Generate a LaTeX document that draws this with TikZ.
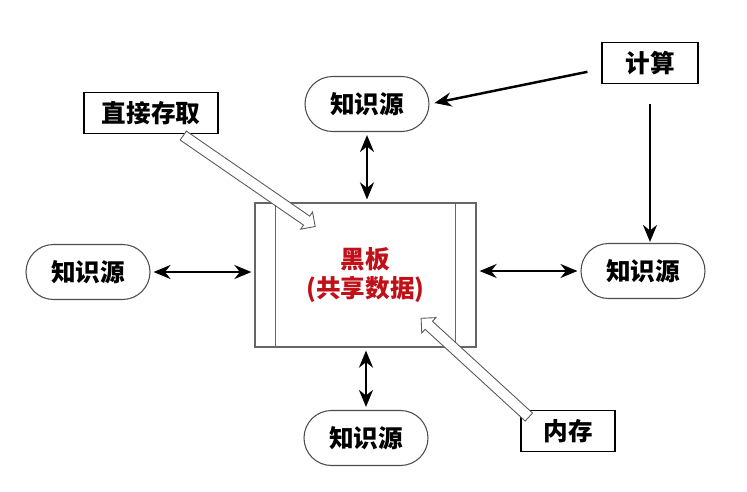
\documentclass[tikz,border=0pt]{standalone}
\usepackage{fontspec}
\setmainfont{Noto Sans CJK SC}
\usetikzlibrary{arrows.meta,calc,shapes.arrows}
\definecolor{boardred}{RGB}{192,16,24}

\begin{document}
\begin{tikzpicture}[
  >={Stealth[length=3.4mm,width=2.8mm]},
  every node/.style={font=\bfseries\fontsize{14}{17}\selectfont},
  src/.style={draw=black!70,line width=0.6pt,rounded corners=5.5mm,minimum width=24.8mm,minimum height=11mm,inner sep=0pt},
  tag/.style={draw,line width=0.9pt,minimum height=8.2mm,inner sep=0pt},
  board/.style={draw=black!60,line width=0.7pt,minimum width=44.2mm,minimum height=28.8mm,align=center,text=boardred},
  link/.style={<->,line width=1.4pt,shorten <=0.6mm,shorten >=0.6mm},
  feed/.style={->,line width=1.4pt},
  blk/.style={single arrow,draw=black!65,fill=white,line width=0.5pt,inner sep=1mm,
    single arrow head extend=1mm,single arrow tip angle=90}
]
\useasboundingbox (0,0) rectangle (14.94,-9.84);

% blackboard
\node[board] (bb) at (7.31,-5.5) {黑板\\(共享数据)};
\draw[black!60,line width=0.7pt] ([xshift=4.2mm]bb.north west) -- ([xshift=4.2mm]bb.south west);
\draw[black!60,line width=0.7pt] ([xshift=-4.2mm]bb.north east) -- ([xshift=-4.2mm]bb.south east);

% knowledge sources
\node[src] (ktop) at (7.34,-2.08) {知识源};
\node[src] (kleft) at (1.76,-5.44) {知识源};
\node[src] (kright) at (12.86,-5.42) {知识源};
\node[src] (kbot) at (7.32,-8.76) {知识源};

% labels
\node[tag,minimum width=26.8mm] (acc) at (3.02,-2.26) {直接存取};
\node[tag,minimum width=19.2mm] (calc) at (13.0,-1.26) {计算};
\node[tag,minimum width=18.8mm] (mem) at (11.36,-8.62) {内存};

% links to the blackboard
\draw[link] (ktop.south) -- (ktop.south |- bb.north);
\draw[link] (kleft.east) -- (kleft.east -| bb.west);
\draw[link] (kright.west -| bb.east) -- (kright.west);
\draw[link] (kbot.north |- bb.south) -- (kbot.north);

\draw[feed,shorten <=2.8mm,shorten >=1mm] ([yshift=-1.2mm]calc.west) -- (ktop.east);
\draw[feed,shorten <=4mm,shorten >=0.2mm] (calc.south) -- (calc.south |- kright.north);

% hollow arrows
\coordinate (acctail) at (3.62,-2.68);
\coordinate (acctip) at (6.26,-4.5);
\coordinate (memtail) at (10.62,-8.38);
\coordinate (memtip) at (8.46,-6.4);

\path let \p1=($(acctip)-(acctail)$) in
  node[blk,minimum height={veclen(\x1,\y1)},rotate={atan2(\y1,\x1)}] (accarrow) at ($(acctail)!0.5!(acctip)$) {};
\path let \p1=($(memtip)-(memtail)$) in
  node[blk,minimum height={veclen(\x1,\y1)},rotate={atan2(\y1,\x1)}] (memarrow) at ($(memtail)!0.5!(memtip)$) {};

\end{tikzpicture}
\end{document}
